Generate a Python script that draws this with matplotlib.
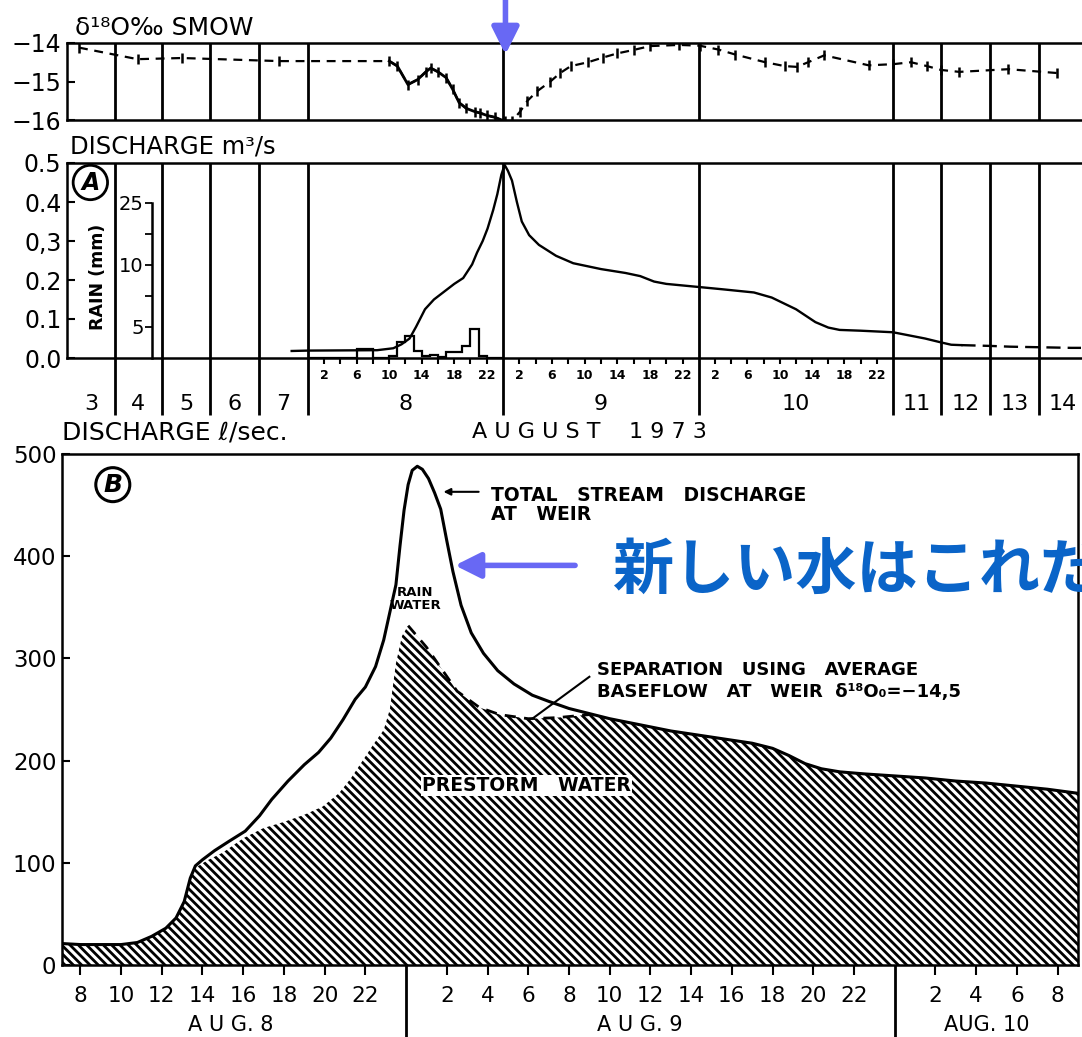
import numpy as np
import matplotlib
matplotlib.use('Agg')
import matplotlib.pyplot as plt
from matplotlib.ticker import NullLocator, FixedLocator, FixedFormatter

plt.rcParams['font.family'] = ['DejaVu Sans']
plt.rcParams['hatch.linewidth'] = 2.0

W, H = 1082, 1037

# ---- upper panels: time in hours from 3 Aug 1973 00:00 ----
day_numbers = [3, 4, 5, 6, 7, 8, 9, 10, 11, 12, 13, 14]

# delta 18O of stream water (permil SMOW)
o18_t = np.array([6, 35.5, 58, 106, 130, 131, 132.3, 133.5, 134.5, 135.1, 136, 137,
                  137.8, 138.6, 139.5, 140.5, 141.2, 142, 143, 144.2, 145.1, 146.1,
                  147, 148.2, 149.8, 151, 152.3, 154.4, 156.2, 158, 160, 162, 165.6,
                  168.1, 170.4, 172.5, 176.2, 178.6, 180.1, 181.5, 183.5, 189, 192,
                  201, 209, 216, 225, 249, 273])
o18_v = np.array([-14.12, -14.42, -14.39, -14.47, -14.47, -14.6, -15.08, -14.95, -14.75,
                  -14.65, -14.75, -14.9, -15.2, -15.55, -15.7, -15.78, -15.82, -15.88,
                  -15.93, -16.03, -16.03, -15.78, -15.5, -15.25, -15.0, -14.78, -14.6,
                  -14.5, -14.38, -14.27, -14.18, -14.08, -14.05, -14.07, -14.17, -14.3,
                  -14.5, -14.6, -14.62, -14.5, -14.32, -14.58, -14.55, -14.5, -14.6,
                  -14.7, -14.75, -14.68, -14.78])

# stream discharge (m3/s)
q_t = np.array([112, 120, 128.5, 130.5, 131.5, 132.5, 133.3, 134.4, 135.5, 136.5, 138,
                139.1, 140.2, 140.8, 141.5, 142.1, 142.8, 143.3, 143.8, 144.2, 144.6,
                145.1, 145.7, 146.3, 147.2, 148.4, 150.5, 152.6, 156, 159, 160.8,
                162.5, 164, 168, 171, 174.8, 177, 180, 182.4, 184, 185.4, 188, 192,
                200, 208, 216, 221, 226, 240, 250, 260, 270, 280, 285])
q_m3s = np.array([0.018, 0.019, 0.02, 0.025, 0.035, 0.05, 0.08, 0.125, 0.15, 0.166,
                  0.19, 0.205, 0.24, 0.27, 0.30, 0.332, 0.38, 0.42, 0.47, 0.495, 0.48,
                  0.455, 0.40, 0.35, 0.315, 0.29, 0.262, 0.243, 0.228, 0.218, 0.21,
                  0.196, 0.19, 0.182, 0.176, 0.168, 0.155, 0.125, 0.092, 0.078, 0.072,
                  0.07, 0.066, 0.058, 0.05, 0.04, 0.034, 0.033, 0.031, 0.029, 0.028,
                  0.027, 0.026, 0.026])

# hourly rain on 8 Aug (mm)
rain_mm = np.array([0, 0, 0, 0, 0, 0, 1.5, 1.5, 0, 0, 0.4, 2.6, 3.6, 1.2, 0.3, 0.5,
                    0.2, 1.0, 1.0, 2.0, 4.6, 0.4, 0, 0])
rain_edges = 120 + np.arange(25)

# ---- panel B: hours from 8 Aug 00:00, discharge in l/s ----
total_h = np.array([7.1, 8, 9, 10, 10.8, 11.5, 12.2, 12.7, 13.1, 13.4, 13.65, 14.0, 14.6,
                    15.3, 16.1, 16.8, 17.4, 18.2, 19.0, 19.7, 20.3, 20.9, 21.5, 22.0,
                    22.5, 22.9, 23.2, 23.5, 23.7, 23.9, 24.1, 24.3, 24.55, 24.8, 25.1,
                    25.4, 25.7, 26.0, 26.3, 26.7, 27.2, 27.8, 28.5, 29.3, 30.2, 31.0,
                    32.0, 33.0, 34.0, 35.0, 36.0, 37.0, 38.0, 39.0, 40.0, 41.0, 42.0,
                    42.8, 43.6, 44.4, 45.3, 46.5, 48.0, 49.5, 51.0, 52.5, 54.0, 55.5, 57.0])
total_ls = np.array([21, 20, 20, 20, 22, 28, 36, 46, 62, 85, 97, 103, 112, 121, 131, 146,
                     162, 180, 196, 208, 222, 240, 260, 272, 292, 318, 345, 372, 410, 445,
                     470, 484, 488, 485, 476, 462, 446, 415, 385, 352, 325, 305, 288, 275,
                     264, 258, 251, 246, 241, 237, 233, 229, 226, 223, 220, 217, 212, 205,
                     197, 192, 189, 187, 185, 183, 180, 178, 175, 172, 168])

prestorm_h = np.array([7.1, 8, 9, 10, 10.8, 11.5, 12.2, 12.7, 13.1, 13.4, 13.65, 14.2,
                       15.0, 16.0, 17.0, 18.0, 19.0, 19.9, 20.7, 21.3, 21.8, 22.4, 22.9,
                       23.2, 23.5, 23.8, 24.1, 24.4, 25.0, 25.7, 26.5, 27.6, 28.6, 30.0,
                       31.4, 33.0, 34.0, 35.0, 36.0, 37.0, 38.0, 39.0, 40.0, 41.0, 42.0,
                       42.8, 43.6, 44.4, 45.3, 46.5, 48.0, 49.5, 51.0, 52.5, 54.0, 55.5, 57.0])
prestorm_ls = np.array([21, 20, 20, 20, 22, 28, 36, 46, 62, 85, 95, 102, 110, 124, 134,
                        140, 147, 155, 168, 183, 198, 216, 230, 250, 295, 322, 332, 325,
                        311, 291, 268, 252, 245, 241, 242, 245, 241, 237, 233, 229, 226,
                        223, 220, 217, 212, 205, 197, 192, 189, 187, 185, 183, 180, 178,
                        175, 172, 168])

# piecewise time axis: short days squeezed, 8-10 Aug stretched
knot_t = np.array([-24, 0, 24, 48, 72, 96, 120, 144, 168, 192, 216, 240, 264, 288, 312])
knot_px = np.array([19, 67, 115, 162, 210, 259, 308, 503, 699, 893, 941, 990, 1039, 1087, 1135])


def fwd(t):
    return np.interp(t, knot_t, knot_px)


def inv(p):
    return np.interp(p, knot_px, knot_t)


def px_rect(left, top, right, bottom):
    return [left / W, 1 - bottom / H, (right - left) / W, (bottom - top) / H]


fig = plt.figure(figsize=(W / 100, H / 100), dpi=100)
fig.patch.set_facecolor('white')
t_end = float(inv(1082))
day_starts = 24 * np.arange(1, len(day_numbers))

# ---------------- delta 18O strip ----------------
ax_o = fig.add_axes(px_rect(67, 43, 1082, 120))
ax_o.set_xscale('function', functions=(fwd, inv))
ax_o.set_xlim(0, t_end)
ax_o.set_ylim(-16, -14)
ax_o.plot(o18_t, o18_v, ls=(0, (4, 3)), color='k', lw=1.6)
storm = (o18_t >= 130) & (o18_t <= 145.1)
ax_o.plot(o18_t[storm], o18_v[storm], '-', color='k', lw=2)
ax_o.plot(o18_t, o18_v, '|', color='k', ms=7, mew=1.8)
ax_o.vlines(day_starts, 0, 1, transform=ax_o.get_xaxis_transform(), color='k', lw=2)
ax_o.xaxis.set_major_locator(NullLocator())
ax_o.xaxis.set_minor_locator(NullLocator())
ax_o.set_yticks([-16, -15, -14])
ax_o.set_yticklabels(['−16', '−15', '−14'])
ax_o.tick_params(axis='y', direction='in', length=6, width=1.5, labelsize=17, pad=4)
ax_o.spines['right'].set_visible(False)
for s in ['left', 'top', 'bottom']:
    ax_o.spines[s].set_linewidth(1.8)
fig.text(75 / W, 1 - 28 / H, 'δ¹⁸O‰ SMOW', fontsize=18, ha='left', va='center')

# ---------------- panel A: discharge and rain ----------------
ax_a = fig.add_axes(px_rect(67, 163, 1082, 358))
ax_a.set_xscale('function', functions=(fwd, inv))
ax_a.set_xlim(0, t_end)
ax_a.set_ylim(0, 0.5)
solid = q_t <= 226
ax_a.plot(q_t[solid], q_m3s[solid], 'k-', lw=1.7)
ax_a.plot(q_t[~solid | (q_t == 226)], q_m3s[~solid | (q_t == 226)], color='k', lw=1.7,
          ls=(0, (6, 3)))
ax_a.vlines(day_starts, -0.29, 1, transform=ax_a.get_xaxis_transform(), color='k', lw=2,
            clip_on=False)

hour_major = [120 + 24 * k + h for k in range(3) for h in (2, 6, 10, 14, 18, 22)]
hour_minor = [120 + 24 * k + h for k in range(3) for h in range(2, 24, 2)]
ax_a.xaxis.set_major_locator(FixedLocator(hour_major))
ax_a.xaxis.set_major_formatter(FixedFormatter([str(int(t - 120) % 24) for t in hour_major]))
ax_a.xaxis.set_minor_locator(FixedLocator(hour_minor))
ax_a.tick_params(axis='x', which='both', direction='out', length=4, width=1.5,
                 labelsize=9, pad=4)
for lab in ax_a.get_xticklabels():
    lab.set_fontweight('bold')
ax_a.set_yticks([0, 0.1, 0.2, 0.3, 0.4, 0.5])
ax_a.set_yticklabels(['0.0', '0.1', '0.2', '0,3', '0.4', '0.5'])
ax_a.tick_params(axis='y', direction='in', length=6, width=1.5, labelsize=17, pad=4)
ax_a.spines['right'].set_visible(False)
for s in ['left', 'top', 'bottom']:
    ax_a.spines[s].set_linewidth(1.8)

for i, d in enumerate(day_numbers):
    ax_a.text(24 * i + 12, -0.235, str(d), transform=ax_a.get_xaxis_transform(),
              ha='center', va='center', fontsize=16)
ax_a.text(0.515, -0.38, 'A U G U S T    1 9 7 3', transform=ax_a.transAxes,
          ha='center', va='center', fontsize=16)
ax_a.text(0.023, 0.90, 'A', transform=ax_a.transAxes, ha='center', va='center',
          fontsize=17, fontweight='bold', fontstyle='italic',
          bbox=dict(boxstyle='circle,pad=0.22', fc='white', ec='k', lw=2))
ax_a.text(0.0305, 0.415, 'RAIN (mm)', transform=ax_a.transAxes, rotation=90,
          ha='center', va='center', fontsize=12.5, fontweight='bold')
fig.text(70 / W, 1 - 147 / H, 'DISCHARGE m³/s', fontsize=17.5, ha='left', va='center')

# rain hyetograph on its own scale, axis drawn inside day 4
ax_r = fig.add_axes(px_rect(67, 163, 1082, 358), sharex=ax_a)
ax_r.patch.set_visible(False)
ax_r.set_ylim(0, 31.45)
ax_r.stairs(rain_mm, rain_edges, color='k', lw=1.6)
for s in ['right', 'top', 'bottom']:
    ax_r.spines[s].set_visible(False)
ax_r.spines['left'].set_position(('data', 43.0))
ax_r.spines['left'].set_bounds(0, 25)
ax_r.spines['left'].set_linewidth(1.8)
ax_r.tick_params(axis='x', which='both', bottom=False, labelbottom=False)
ax_r.yaxis.set_major_locator(FixedLocator([5, 15, 25]))
ax_r.yaxis.set_major_formatter(FixedFormatter(['5', '10', '25']))
ax_r.yaxis.set_minor_locator(FixedLocator([10, 20]))
ax_r.tick_params(axis='y', which='both', direction='out', length=5, width=1.3,
                 labelsize=14, pad=1)

fig.text(62 / W, 1 - 433 / H, 'DISCHARGE ℓ/sec.', fontsize=18, ha='left', va='center')

# ---------------- panel B: hydrograph separation ----------------
ax_b = fig.add_axes(px_rect(62, 454, 1078, 965))
ax_b.set_xlim(7.1, 57.0)
ax_b.set_ylim(0, 500)
ax_b.fill_between(prestorm_h, 0, prestorm_ls, facecolor='white', edgecolor='k',
                  hatch='\\\\\\\\', linewidth=0)
ax_b.plot(total_h, total_ls, 'k-', lw=2.2)
sep = (prestorm_h >= 24.1) & (prestorm_h <= 33.0)
ax_b.plot(prestorm_h[sep], prestorm_ls[sep], color='k', lw=2, ls=(0, (4, 3)))

b_ticks = [h for h in range(8, 57, 2) if h not in (24, 48)]
ax_b.set_xticks(b_ticks)
ax_b.set_xticklabels([str(h % 24) for h in b_ticks])
ax_b.tick_params(axis='x', direction='out', length=7, width=1.5, labelsize=15.5, pad=8)
ax_b.set_yticks([0, 100, 200, 300, 400, 500])
ax_b.tick_params(axis='y', direction='in', length=6, width=1.5, labelsize=16.5, pad=4)
for s in ax_b.spines.values():
    s.set_linewidth(1.8)
ax_b.vlines([24, 48], -0.16, 0, transform=ax_b.get_xaxis_transform(), color='k', lw=2,
            clip_on=False)
for x, lab in [(15.4, 'A U G. 8'), (35.5, 'A U G. 9'), (52.5, 'AUG. 10')]:
    ax_b.text(x, -0.117, lab, transform=ax_b.get_xaxis_transform(), ha='center',
              va='center', fontsize=15)

ax_b.text(0.05, 0.94, 'B', transform=ax_b.transAxes, ha='center', va='center',
          fontsize=18, fontweight='bold', fontstyle='italic',
          bbox=dict(boxstyle='circle,pad=0.2', fc='white', ec='k', lw=2.2))
ax_b.annotate('', xy=(25.7, 463), xytext=(27.7, 463),
              arrowprops=dict(arrowstyle='-|>', color='k', lw=1.5, mutation_scale=10))
ax_b.text(28.15, 450, 'TOTAL   STREAM   DISCHARGE\nAT   WEIR', ha='left', va='center',
          fontsize=13.5, fontweight='bold', linespacing=1.05)
ax_b.text(24.44, 358, 'RAIN\nWATER', ha='center', va='center', fontsize=9.5,
          fontweight='bold', linespacing=1.0)
ax_b.plot([30.2, 33.0], [241, 282], color='k', lw=1.5)
ax_b.text(33.4, 278, 'SEPARATION   USING   AVERAGE\nBASEFLOW   AT   WEIR  δ¹⁸O₀=−14,5',
          ha='left', va='center', fontsize=13, fontweight='bold', linespacing=1.25)
ax_b.text(29.9, 176, 'PRESTORM   WATER', ha='center', va='center', fontsize=13.5,
          fontweight='bold', bbox=dict(boxstyle='square,pad=0.05', fc='white', ec='none'))

# highlight arrows and note
blue = '#6868f4'
ax_b.annotate('', xy=(26.4, 391), xytext=(32.3, 391),
              arrowprops=dict(arrowstyle='-|>,head_length=1.4,head_width=0.7', color=blue,
                              lw=4, mutation_scale=11, shrinkA=0, shrinkB=0))
ax_o.annotate('', xy=(144.3, -14.3), xytext=(144.3, -12.85), annotation_clip=False,
              arrowprops=dict(arrowstyle='-|>,head_length=1.5,head_width=0.75', color=blue,
                              lw=4, mutation_scale=11, shrinkA=0, shrinkB=0))
fig.text(612 / W, 1 - 572 / H, '新しい水はこれだ', fontsize=44, fontweight='bold',
         color='#0a64c8', ha='left', va='center', family=['Noto Sans CJK JP'])

fig.savefig('out.png', dpi=100, facecolor='white')
